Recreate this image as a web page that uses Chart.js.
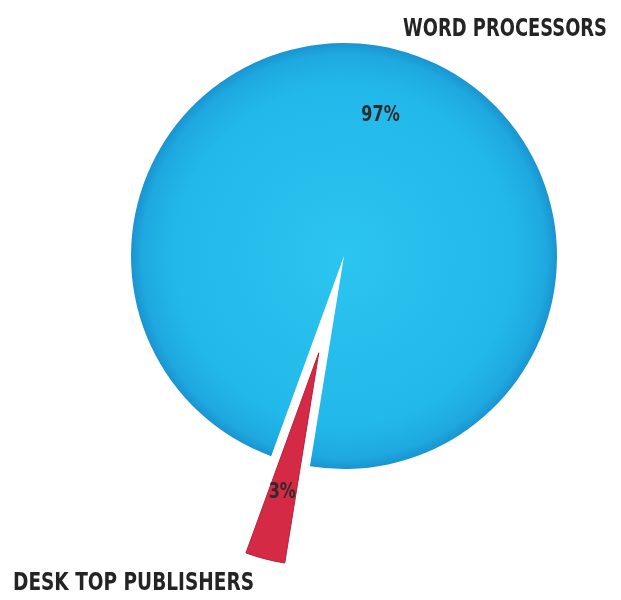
<!DOCTYPE html>
<html>
<head>
<meta charset="utf-8">
<script src="https://cdn.jsdelivr.net/npm/chart.js@4/dist/chart.umd.min.js"></script>
<style>
  html, body { margin: 0; padding: 0; background: #fff; }
</style>
</head>
<body>
<canvas id="pie" width="621" height="600"></canvas>
<script>
(function () {
  'use strict';

  // ── Data ──────────────────────────────────────────────────────────────────
  var categories = ['WORD PROCESSORS', 'DESK TOP PUBLISHERS'];
  var shares = [97, 3];
  var shareLabels = ['97%', '3%'];

  // ── Style ─────────────────────────────────────────────────────────────────
  var RADIUS = 213;
  var EXPLODE = [0, 100];          // how far each slice is pulled out
  var RED = '#d42a45';
  var LABEL_FONT = 'bold 24px "Liberation Sans Narrow", "DejaVu Sans Condensed", sans-serif';
  var PCT_FONT = 'bold 21px "Liberation Sans Narrow", "DejaVu Sans Condensed", sans-serif';
  // the lettering in the original is very condensed, so squeeze to a width
  var CAT_LABEL_POS = [
    { x: 607, y: 36, align: 'right', width: 204 },
    { x: 13, y: 590, align: 'left', width: 241 }
  ];

  function sliceFill(ctx) {
    if (ctx.dataIndex === 1) {
      return RED;
    }
    var area = ctx.chart.chartArea;
    if (!area) {
      return '#22b4e6';
    }
    var cx = (area.left + area.right) / 2;
    var cy = (area.top + area.bottom) / 2;
    var g = ctx.chart.ctx.createRadialGradient(cx, cy, 0, cx, cy, RADIUS);
    g.addColorStop(0, '#2cc4f0');
    g.addColorStop(0.8, '#22b8e9');
    g.addColorStop(0.95, '#1ea8df');
    g.addColorStop(1, '#1a94d0');
    return g;
  }

  // pull slices out along their middle angle
  var explodePlugin = {
    id: 'explode',
    afterDatasetUpdate: function (chart, args) {
      args.meta.data.forEach(function (arc, i) {
        var d = EXPLODE[i];
        if (!d) {
          return;
        }
        var mid = (arc.startAngle + arc.endAngle) / 2;
        arc.x += Math.cos(mid) * d;
        arc.y += Math.sin(mid) * d;
      });
    }
  };

  var labelPlugin = {
    id: 'sliceLabels',
    afterDatasetsDraw: function (chart) {
      var ctx = chart.ctx;
      var arcs = chart.getDatasetMeta(0).data;
      ctx.save();
      ctx.fillStyle = '#33292b';
      ctx.font = PCT_FONT;
      ctx.textAlign = 'center';
      ctx.textBaseline = 'middle';
      arcs.forEach(function (arc, i) {
        var mid = (arc.startAngle + arc.endAngle) / 2;
        var r = arc.outerRadius * 0.68;
        var x = arc.x + Math.cos(mid) * r;
        var y = arc.y + Math.sin(mid) * r;
        ctx.save();
        ctx.translate(x, y);
        ctx.scale(0.85, 1);
        ctx.fillText(shareLabels[i], 0, 0);
        ctx.restore();
      });

      ctx.fillStyle = '#242424';
      ctx.font = LABEL_FONT;
      ctx.textBaseline = 'alphabetic';
      categories.forEach(function (name, i) {
        var p = CAT_LABEL_POS[i];
        var sx = Math.min(1, p.width / ctx.measureText(name).width);
        ctx.save();
        ctx.translate(p.x, p.y);
        ctx.scale(sx, 1);
        ctx.textAlign = p.align;
        ctx.fillText(name, 0, 0);
        ctx.restore();
      });
      ctx.restore();
    }
  };

  new Chart(document.getElementById('pie'), {
    type: 'pie',
    data: {
      labels: categories,
      datasets: [{
        data: shares,
        backgroundColor: sliceFill,
        borderColor: ['#1c9fd8', '#b8203a'],
        borderWidth: [0, 1],
        clip: false
      }]
    },
    options: {
      responsive: false,
      animation: false,
      rotation: -160,
      radius: RADIUS,
      layout: { padding: { left: 67, right: 0, top: 0, bottom: 88 } },
      plugins: {
        legend: { display: false },
        tooltip: { enabled: false }
      }
    },
    plugins: [explodePlugin, labelPlugin]
  });

}());
</script>
</body>
</html>
